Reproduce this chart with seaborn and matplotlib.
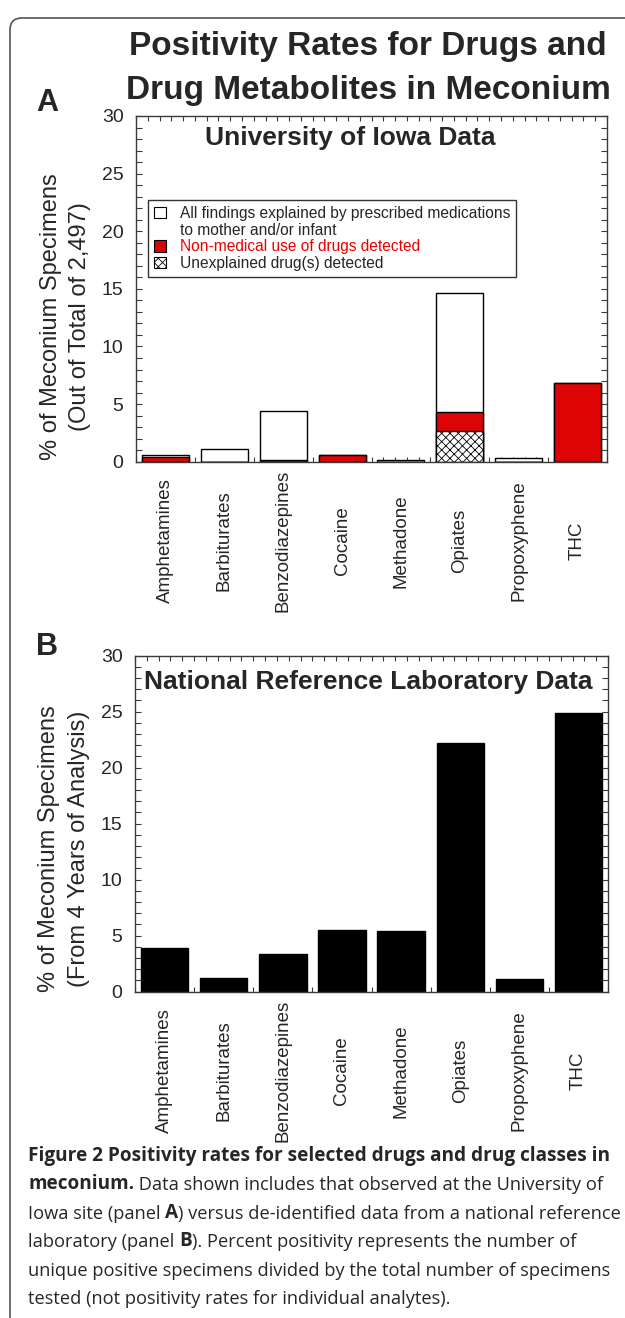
import numpy as np
import pandas as pd
import seaborn as sns
import matplotlib.pyplot as plt
from matplotlib.patches import Patch, FancyBboxPatch
from matplotlib.ticker import MultipleLocator, FixedLocator
from matplotlib import font_manager

# -----------------------------
# Data
# -----------------------------
drugs = ["Amphetamines", "Barbiturates", "Benzodiazepines", "Cocaine",
         "Methadone", "Opiates", "Propoxyphene", "THC"]

# Panel A - University of Iowa (stacked, % of 2,497 specimens)
iowa_unexplained = [0.0, 0.0, 0.0, 0.0, 0.0, 2.7, 0.0, 0.0]
iowa_nonmedical = [0.4, 0.0, 0.15, 0.6, 0.0, 1.6, 0.0, 6.8]
iowa_explained = [0.2, 1.1, 4.25, 0.0, 0.15, 10.3, 0.35, 0.0]

# Panel B - national reference laboratory
national_rates = [3.9, 1.2, 3.4, 5.5, 5.4, 22.2, 1.1, 24.9]

legend_labels = ["All findings explained by prescribed medications",
                 "to mother and/or infant",
                 "Non-medical use of drugs detected",
                 "Unexplained drug(s) detected"]

caption_lines = [
    [("Figure 2 Positivity rates for selected drugs and drug classes in", "bold")],
    [("meconium.", "bold"), (" Data shown includes that observed at the University of", "normal")],
    [("Iowa site (panel ", "normal"), ("A", "bold"), (") versus de-identified data from a national reference", "normal")],
    [("laboratory (panel ", "normal"), ("B", "bold"), ("). Percent positivity represents the number of", "normal")],
    [("unique positive specimens divided by the total number of specimens", "normal")],
    [("tested (not positivity rates for individual analytes).", "normal")],
]

RED = "#dc0404"
EDGE = "#3a3a3a"

sns.set_style("ticks")
plt.rcParams["font.family"] = ["Liberation Sans", "DejaVu Sans"]
plt.rcParams["hatch.linewidth"] = 0.6
plt.rcParams["hatch.color"] = "black"

installed = {f.name for f in font_manager.fontManager.ttflist}
if "Liberation Sans Narrow" in installed:
    title_family, title_size = ["Liberation Sans Narrow", "Liberation Sans"], 28.5
else:
    title_family, title_size = ["Liberation Sans", "DejaVu Sans"], 24

fig = plt.figure(figsize=(6.25, 13.18), dpi=100)
axA = fig.add_axes([0.2176, 0.6497, 0.7536, 0.2623])
axB = fig.add_axes([0.2160, 0.2476, 0.7570, 0.2549])

# -----------------------------
# Panel A: layered bars give the stack
# -----------------------------
df_a = pd.DataFrame({"drug": drugs,
                     "unexplained": iowa_unexplained,
                     "nonmedical": iowa_nonmedical,
                     "explained": iowa_explained})
df_a["red_top"] = df_a["unexplained"] + df_a["nonmedical"]
df_a["total"] = df_a["red_top"] + df_a["explained"]

bar_kw = dict(x="drug", order=drugs, width=0.8, saturation=1, errorbar=None,
              edgecolor="black", linewidth=1, ax=axA)
sns.barplot(data=df_a, y="total", color="white", **bar_kw)
sns.barplot(data=df_a, y="red_top", color=RED, **bar_kw)
sns.barplot(data=df_a, y="unexplained", color="white", hatch="xxxx", **bar_kw)

# -----------------------------
# Panel B
# -----------------------------
df_b = pd.DataFrame({"drug": drugs, "rate": national_rates})
sns.barplot(data=df_b, x="drug", y="rate", order=drugs, color="black", width=0.8,
            saturation=1, errorbar=None, edgecolor="black", linewidth=1, ax=axB)


def style_axes(ax, ylabel, label_y):
    ax.set_xlim(-0.5, 7.5)
    ax.set_ylim(0, 30)
    ax.yaxis.set_major_locator(MultipleLocator(5))
    ax.yaxis.set_minor_locator(MultipleLocator(1))
    ax.xaxis.set_minor_locator(FixedLocator(np.arange(-0.5, 7.51, 0.2)))
    ax.tick_params(axis="both", which="both", direction="in", top=True, right=True,
                   color=EDGE, width=0.8)
    ax.tick_params(axis="y", which="both", length=4)
    ax.tick_params(axis="y", which="major", labelsize=14, pad=9)
    ax.tick_params(axis="x", which="major", length=0, labelsize=13.5, pad=57,
                   labelrotation=90)
    ax.tick_params(axis="x", which="minor", length=3.5)
    for lab in ax.get_xticklabels():
        lab.set_va("center")
    ax.set_xlabel("")
    ax.set_ylabel(ylabel, fontsize=17, linespacing=1.45)
    ax.yaxis.label.set_va("center")
    ax.yaxis.set_label_coords(-0.15, label_y)
    for sp in ax.spines.values():
        sp.set_color(EDGE)
        sp.set_linewidth(1)


style_axes(axA, "% of Meconium Specimens\n(Out of Total of 2,497)", 0.42)
style_axes(axB, "% of Meconium Specimens\n(From 4 Years of Analysis)", 0.425)

axA.text(0.1465, 0.936, "University of Iowa Data", transform=axA.transAxes,
         ha="left", va="center", fontsize=19, fontweight="bold")
axB.text(0.4926, 0.922, "National Reference Laboratory Data", transform=axB.transAxes,
         ha="center", va="center", fontsize=19, fontweight="bold")

# legend
handles = [Patch(facecolor="white", edgecolor="black", linewidth=0.8),
           Patch(facecolor="none", edgecolor="none"),
           Patch(facecolor=RED, edgecolor="black", linewidth=0.8),
           Patch(facecolor="white", edgecolor="black", linewidth=0.8, hatch="xxxx")]
leg = axA.legend(handles, legend_labels, loc="upper left", bbox_to_anchor=(0.025, 0.757),
                 borderaxespad=0, fontsize=11.2, frameon=True, fancybox=False,
                 edgecolor="#333333", framealpha=1, handlelength=0.75, handleheight=0.75,
                 handletextpad=0.9, labelspacing=0.1, borderpad=0.4)
leg.get_frame().set_linewidth(1)
leg.get_texts()[2].set_color("#ee0000")

# -----------------------------
# Figure-level text
# -----------------------------
fig.text(0.589, 1 - 47 / 1318, "Positivity Rates for Drugs and", ha="center", va="center",
         fontsize=title_size, fontweight="bold", family=title_family)
fig.text(0.589, 1 - 90 / 1318, "Drug Metabolites in Meconium", ha="center", va="center",
         fontsize=title_size, fontweight="bold", family=title_family)
fig.text(47 / 625, 1 - 103 / 1318, "A", ha="center", va="center", fontsize=22, fontweight="bold")
fig.text(47 / 625, 1 - 647 / 1318, "B", ha="center", va="center", fontsize=22, fontweight="bold")

# caption: pick sizes so the full lines span the same width as in the figure
cap_font = ["Open Sans", "DejaVu Sans"]
renderer = fig.canvas.get_renderer()
cap_width = 584
cap_size = {}
for weight, sample in [("bold", caption_lines[0][0][0]), ("normal", caption_lines[4][0][0])]:
    probe = fig.text(0, 0, sample, fontsize=10, fontweight=weight, family=cap_font)
    cap_size[weight] = 10 * cap_width / probe.get_window_extent(renderer).width
    probe.remove()

for i, segments in enumerate(caption_lines):
    y = 1 - (1166 + 28.4 * i) / 1318
    prev = None
    for seg, weight in segments:
        if prev is None:
            prev = fig.text(28 / 625, y, seg, ha="left", va="bottom", fontsize=cap_size[weight],
                            fontweight=weight, family=cap_font)
        else:
            prev = axB.annotate(seg, xy=(1, 0), xycoords=prev, ha="left", va="bottom",
                                fontsize=cap_size[weight], fontweight=weight, family=cap_font,
                                annotation_clip=False)

# frame around the figure
frame = FancyBboxPatch((0.1, -1.0), 10, 14.0, boxstyle="round,pad=0,rounding_size=0.12",
                       transform=fig.dpi_scale_trans, fill=False, edgecolor="#555555",
                       linewidth=1.2)
fig.add_artist(frame)

fig.savefig("out.png", dpi=100)
